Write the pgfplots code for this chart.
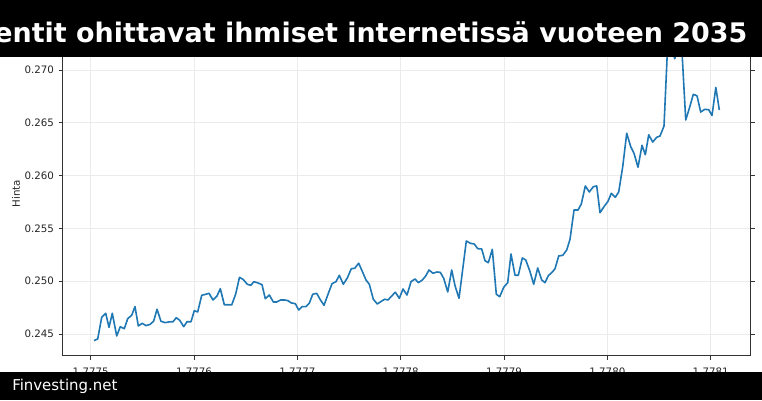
\documentclass[border=0pt]{standalone}
\usepackage{fontspec}
\setmainfont{DejaVu Sans}
\usepackage{pgfplots}
\pgfplotsset{compat=1.18}

\definecolor{mplblue}{HTML}{1F77B4}
\definecolor{gridgray}{HTML}{EBEBEB}

% x is given in units of 0.0001 from 1.7775 (ticks relabelled below)
\begin{document}
\begin{tikzpicture}[x=0.75pt,y=0.75pt]
\path[use as bounding box] (0,0) rectangle (762,400);
\begin{scope}
\clip (0,0) rectangle (762,400);
\begin{axis}[
  at={(47.025pt,33.375pt)}, anchor=south west,
  scale only axis,
  width=515.9pt, height=244.1pt,
  xmin=-0.271, xmax=6.386,
  ymin=0.24296, ymax=0.27379,
  xtick={0,1,2,3,4,5,6},
  xticklabels={1.7775,1.7776,1.7777,1.7778,1.7779,1.7780,1.7781},
  ytick={0.245,0.25,0.255,0.26,0.265,0.27},
  yticklabels={0.245,0.250,0.255,0.260,0.265,0.270},
  grid=major,
  major grid style={gridgray, line width=0.6pt},
  tick align=outside,
  major tick length=3pt,
  axis line style={black!80, line width=0.6pt},
  tick style={black!80, line width=0.6pt},
  ticklabel style={font=\fontsize{7.7}{9}\selectfont, text=black!85},
  xticklabel style={yshift=-2.5pt},
  /pgf/number format/assume math mode=true,
  ylabel={Hinta},
  ylabel style={at={(axis description cs:-0.068,0.497)}, anchor=center,
    font=\fontsize{7.7}{9}\selectfont, text=black!85},
]
\addplot[mplblue, line width=1.2pt, line join=round] table {
x y
0.0319 0.24437
0.0677 0.24453
0.1065 0.24658
0.1452 0.24696
0.1771 0.24563
0.2090 0.24696
0.2516 0.24481
0.2865 0.24569
0.3252 0.24550
0.3581 0.24645
0.3968 0.24677
0.4287 0.24759
0.4607 0.24576
0.4994 0.24601
0.5352 0.24579
0.5768 0.24592
0.6097 0.24623
0.6416 0.24734
0.6803 0.24620
0.7191 0.24607
0.7578 0.24614
0.7965 0.24616
0.8284 0.24654
0.8613 0.24630
0.9000 0.24569
0.9320 0.24616
0.9707 0.24616
1.0026 0.24721
1.0355 0.24708
1.0742 0.24866
1.1129 0.24876
1.1449 0.24885
1.1836 0.24822
1.2223 0.24860
1.2542 0.24929
1.2929 0.24777
1.3317 0.24777
1.3646 0.24775
1.4033 0.24879
1.4400 0.25037
1.4768 0.25015
1.5155 0.24971
1.5484 0.24961
1.5804 0.24995
1.6191 0.24983
1.6578 0.24967
1.6897 0.24834
1.7284 0.24869
1.7672 0.24803
1.8001 0.24803
1.8388 0.24822
1.8775 0.24822
1.9094 0.24815
1.9414 0.24794
1.9801 0.24787
2.0130 0.24727
2.0449 0.24759
2.0836 0.24759
2.1156 0.24791
2.1485 0.24876
2.1872 0.24885
2.2191 0.24829
2.2578 0.24772
2.2965 0.24876
2.3352 0.24976
2.3739 0.24995
2.4059 0.25056
2.4446 0.24971
2.4833 0.25030
2.5220 0.25118
2.5549 0.25122
2.5936 0.25170
2.6256 0.25099
2.6643 0.25011
2.6962 0.24971
2.7349 0.24829
2.7736 0.24784
2.8066 0.24806
2.8453 0.24829
2.8772 0.24822
2.9159 0.24863
2.9478 0.24895
2.9866 0.24838
3.0224 0.24926
3.0611 0.24869
3.0998 0.24995
3.1385 0.25021
3.1704 0.24986
3.2091 0.25011
3.2421 0.25049
3.2740 0.25106
3.3127 0.25075
3.3514 0.25087
3.3833 0.25084
3.4163 0.25027
3.4550 0.24898
3.4937 0.25106
3.5256 0.24957
3.5643 0.24838
3.6350 0.25381
3.6737 0.25359
3.7124 0.25352
3.7453 0.25308
3.7840 0.25305
3.8159 0.25194
3.8479 0.25175
3.8866 0.25302
3.9253 0.24876
3.9582 0.24853
3.9969 0.24942
4.0356 0.24986
4.0675 0.25258
4.1062 0.25056
4.1382 0.25056
4.1769 0.25220
4.2098 0.25201
4.2485 0.25099
4.2872 0.24971
4.3260 0.25125
4.3647 0.25011
4.3966 0.24986
4.4285 0.25052
4.4672 0.25087
4.4934 0.25118
4.5292 0.25239
4.5679 0.25245
4.6066 0.25295
4.6386 0.25397
4.6773 0.25674
4.7160 0.25674
4.7479 0.25731
4.7866 0.25902
4.8253 0.25845
4.8640 0.25895
4.8970 0.25902
4.9289 0.25649
4.9676 0.25706
5.0063 0.25757
5.0382 0.25832
5.0769 0.25795
5.1098 0.25845
5.1486 0.26084
5.1873 0.26401
5.2260 0.26274
5.2579 0.26211
5.2966 0.26079
5.3353 0.26287
5.3673 0.26198
5.4002 0.26387
5.4389 0.26318
5.4776 0.26363
5.5095 0.26375
5.5482 0.26470
5.5821 0.27208
5.6160 0.27237
5.6518 0.27107
5.6886 0.27227
5.7224 0.27171
5.7583 0.26527
5.7931 0.26637
5.8318 0.26770
5.8676 0.26756
5.9034 0.26602
5.9421 0.26628
5.9809 0.26624
6.0128 0.26569
6.0496 0.26836
6.0835 0.26621
};
\end{axis}
% title banner and footer bar
\fill[black] (0,343) rectangle (762,400);
\fill[black] (0,0) rectangle (762,28.3);
\node[anchor=base east, text=white, inner sep=0pt,
  font=\bfseries\fontsize{20.2}{24}\selectfont] at (747.7,357.3)
  {entit ohittavat ihmiset internetissä vuoteen 2035};
\node[anchor=base west, text=white, inner sep=0pt,
  font=\fontsize{11.2}{13}\selectfont] at (12,9.3) {Finvesting.net};
\end{scope}
\end{tikzpicture}
\end{document}
